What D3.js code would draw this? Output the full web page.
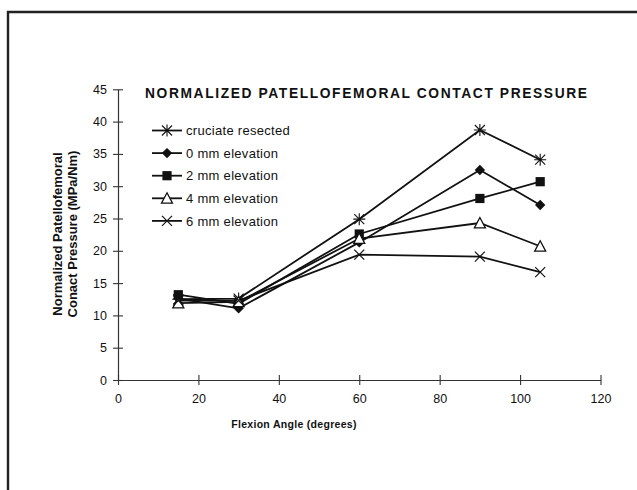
<!DOCTYPE html>
<html>
<head>
<meta charset="utf-8">
<script src="https://cdn.jsdelivr.net/npm/d3@7"></script>
<style>
  html, body { margin: 0; padding: 0; background: #fff; }
  svg { display: block; font-family: "Liberation Sans", Arial, sans-serif; }
</style>
</head>
<body>
<svg id="chart" width="637" height="490"></svg>
<script>
// Flexion angles (degrees)
const angles = [15, 30, 60, 90, 105];

// Normalized patellofemoral contact pressure (MPa/Nm), one array per condition
const cruciateResected = [12.5, 12.6, 24.9, 38.7, 34.1];
const elev0mm = [12.6, 11.1, 21.3, 32.5, 27.1];
const elev2mm = [13.2, 11.8, 22.6, 28.1, 30.7];
const elev4mm = [11.9, 12.1, 21.9, 24.3, 20.7];
const elev6mm = [12.3, 12.3, 19.4, 19.1, 16.7];

const seriesNames = ["cruciate resected", "0 mm elevation", "2 mm elevation", "4 mm elevation", "6 mm elevation"];
const seriesValues = [cruciateResected, elev0mm, elev2mm, elev4mm, elev6mm];
const seriesMarkers = ["asterisk", "diamond", "square", "triangle", "cross"];

const xTicks = [0, 20, 40, 60, 80, 100, 120];
const yTicks = [0, 5, 10, 15, 20, 25, 30, 35, 40, 45];

const titleText = "NORMALIZED PATELLOFEMORAL CONTACT PRESSURE";
const xTitle = "Flexion Angle (degrees)";
const yTitleLines = ["Normalized Patellofemoral", "Conact Pressure (MPa/Nm)"];

const svg = d3.select("#chart");
const ink = "#111";

// outer frame (left and top edges)
svg.append("path")
  .attr("d", "M8,490 L8,12 L637,12")
  .attr("fill", "none").attr("stroke", "#222").attr("stroke-width", 2.4);

const x = d3.scaleLinear().domain([0, 120]).range([118, 600.5]);
const y = d3.scaleLinear().domain([0, 45]).range([380, 89.3]);

// axes
const xAxis = d3.axisBottom(x).tickValues(xTicks).tickSize(0).tickPadding(14);
const gx = svg.append("g").attr("transform", `translate(0,${y(0)})`).call(xAxis);
gx.select(".domain").attr("stroke", "#333").attr("stroke-width", 1.2);
gx.selectAll(".tick line").remove();
gx.selectAll(".tick").append("line")
  .attr("y1", -5).attr("y2", 5).attr("stroke", "#333").attr("stroke-width", 1.1);
gx.selectAll(".tick text").attr("font-size", 12.5).attr("fill", ink)
  .attr("font-family", "Liberation Sans, Arial, sans-serif");

const yAxis = d3.axisLeft(y).tickValues(yTicks).tickSize(0).tickPadding(11);
const gy = svg.append("g").attr("transform", `translate(${x(0)},0)`).call(yAxis);
gy.select(".domain").attr("stroke", "#333").attr("stroke-width", 1.2);
gy.selectAll(".tick line").remove();
gy.selectAll(".tick").append("line")
  .attr("x1", -5).attr("x2", 5).attr("stroke", "#333").attr("stroke-width", 1.1);
gy.selectAll(".tick text").attr("font-size", 12.5).attr("fill", ink)
  .attr("font-family", "Liberation Sans, Arial, sans-serif");

// marker drawing
function drawMarker(g, type, cx, cy) {
  const m = g.append("g").attr("transform", `translate(${cx},${cy})`);
  const s = 5;
  if (type === "asterisk") {
    m.append("path")
      .attr("d", `M${-s},${-s}L${s},${s}M${-s},${s}L${s},${-s}M0,${-s - 1}L0,${s + 1}M${-s - 1},0L${s + 1},0`)
      .attr("stroke", ink).attr("stroke-width", 1.1).attr("fill", "none");
  } else if (type === "diamond") {
    m.append("path").attr("d", "M0,-5.2L5.2,0L0,5.2L-5.2,0Z").attr("fill", ink);
  } else if (type === "square") {
    m.append("rect").attr("x", -4.6).attr("y", -4.6).attr("width", 9.2).attr("height", 9.2).attr("fill", ink);
  } else if (type === "triangle") {
    m.append("path").attr("d", "M0,-5.5L5.5,4.8L-5.5,4.8Z")
      .attr("fill", "#fff").attr("stroke", ink).attr("stroke-width", 1.3);
  } else if (type === "cross") {
    m.append("path").attr("d", `M${-s},${-s}L${s},${s}M${-s},${s}L${s},${-s}`)
      .attr("stroke", ink).attr("stroke-width", 1.2).attr("fill", "none");
  }
}

const line = d3.line().x(d => x(d[0])).y(d => y(d[1]));
const plot = svg.append("g");

seriesValues.forEach((vals, i) => {
  const pts = angles.map((a, j) => [a, vals[j]]);
  plot.append("path").datum(pts)
    .attr("d", line).attr("fill", "none")
    .attr("stroke", ink).attr("stroke-width", 1.8);
});
seriesValues.forEach((vals, i) => {
  angles.forEach((a, j) => drawMarker(plot, seriesMarkers[i], x(a), y(vals[j])));
});

// legend
const legend = svg.append("g");
seriesNames.forEach((name, i) => {
  const ly = 130.5 + i * 22.6;
  legend.append("line").attr("x1", 152).attr("x2", 182).attr("y1", ly).attr("y2", ly)
    .attr("stroke", ink).attr("stroke-width", 1.8);
  drawMarker(legend, seriesMarkers[i], 167, ly);
  legend.append("text").attr("x", 186).attr("y", ly + 4.6)
    .attr("font-size", 13).attr("fill", ink).attr("letter-spacing", 0.3).text(name);
});

// title
svg.append("text")
  .attr("x", 145).attr("y", 97.5)
  .attr("font-size", 13.8).attr("font-weight", "bold").attr("fill", ink)
  .attr("textLength", 442).attr("lengthAdjust", "spacing")
  .text(titleText);

// axis titles
svg.append("text")
  .attr("x", 294).attr("y", 428).attr("text-anchor", "middle")
  .attr("font-size", 10.5).attr("font-weight", "bold").attr("fill", ink)
  .attr("letter-spacing", 0.3)
  .text(xTitle);

yTitleLines.forEach((t, i) => {
  svg.append("text")
    .attr("transform", `translate(${62 + i * 15},234) rotate(-90)`)
    .attr("text-anchor", "middle")
    .attr("font-size", 13).attr("font-weight", "bold").attr("fill", ink)
    .text(t);
});
</script>
</body>
</html>
